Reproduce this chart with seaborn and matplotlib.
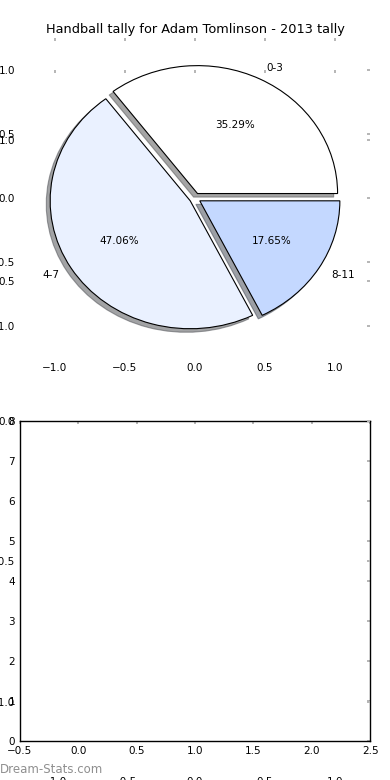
import matplotlib
matplotlib.use("Agg")
import matplotlib.pyplot as plt
import seaborn as sns
import numpy as np
import pandas as pd
from matplotlib.ticker import MultipleLocator, ScalarFormatter

# data
ranges = ["0-3", "4-7", "8-11"]
tally = [6, 8, 3]
slice_colors = ["#ffffff", "#eaf1ff", "#c4d8ff"]
explode = [0.04, 0.04, 0.04]
bar_values = [0, 0, 0]

sns.set_style("white")
plt.rcParams["font.family"] = ["DejaVu Sans"]
plt.rcParams["font.size"] = 7.5
plt.rcParams["text.color"] = "black"

TICK_GREY = "#b5b5b5"


def style_ticks(ax):
    ax.tick_params(axis="both", which="both", direction="in", length=2.2, width=1.4,
                   color=TICK_GREY, labelsize=7.5, labelcolor="black",
                   top=True, right=True, pad=3.5)


fig = plt.figure(figsize=(3.9, 7.8), dpi=100)

# top: pie chart
ax1 = fig.add_axes([0.051, 0.541, 0.898, 0.41])
ax1.pie(tally, labels=ranges, colors=slice_colors, explode=explode,
        autopct="%.2f%%", shadow=True, startangle=0,
        wedgeprops=dict(edgecolor="black", linewidth=0.8),
        textprops=dict(fontsize=7.5, color="black"))
ax1.set_aspect("auto")
ax1.set_xlim(-1.25, 1.25)
ax1.set_ylim(-1.25, 1.25)
ax1.set_xticks(np.arange(-1, 1.01, 0.5))
ax1.set_yticks(np.arange(-1, 1.01, 0.5))
ax1.set_frame_on(False)
style_ticks(ax1)
ax1.set_title("Handball tally for Adam Tomlinson - 2013 tally", fontsize=9.25,
              pad=4, color="black")

# bottom: empty bar axes
ax2 = fig.add_axes([0.051, 0.05, 0.898, 0.41])
df = pd.DataFrame({"range": ranges, "count": bar_values})
sns.barplot(data=df, x="range", y="count", ax=ax2, color="#c4d8ff", linewidth=0)
ax2.set_xlim(-0.5, 2.5)
ax2.set_ylim(0, 8)
ax2.xaxis.set_major_locator(MultipleLocator(0.5))
ax2.xaxis.set_major_formatter(ScalarFormatter())
ax2.yaxis.set_major_locator(MultipleLocator(1))
ax2.set_xlabel("")
ax2.set_ylabel("")
for s in ax2.spines.values():
    s.set_visible(True)
    s.set_color("black")
    s.set_linewidth(1)
style_ticks(ax2)

# stray leftover axes spanning most of the figure
ax3 = fig.add_axes([0.051, 0.0103, 0.898, 0.9])
ax3.set_xlim(-1.25, 1.25)
ax3.set_ylim(-1.25, 1.25)
ax3.set_xticks(np.arange(-1, 1.01, 0.5))
ax3.set_yticks(np.arange(-1, 1.01, 0.5))
ax3.set_frame_on(False)
ax3.patch.set_visible(False)
style_ticks(ax3)

fig.text(0.0, 0.013, "Dream-Stats.com", color="#8f8f8f", fontsize=8.5,
         ha="left", va="center")

fig.savefig("out.png", dpi=100)
